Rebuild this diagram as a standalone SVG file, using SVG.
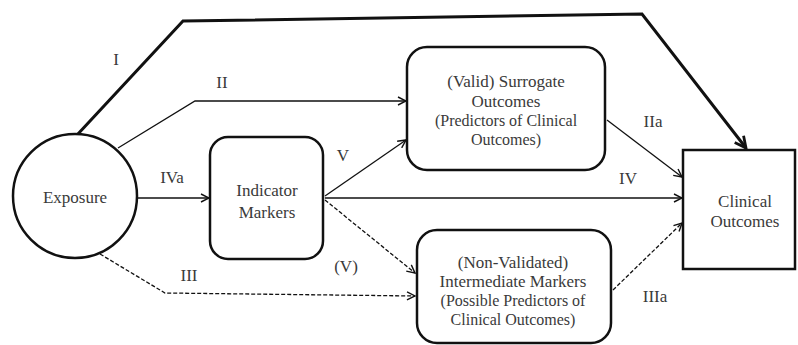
<svg xmlns="http://www.w3.org/2000/svg" width="798" height="345" viewBox="0 0 798 345">
<style>
.node{fill:#fff;stroke:#111;stroke-width:2.5}
text{font-family:'Liberation Serif','Times New Roman','DejaVu Serif',serif;font-size:17px;fill:#3a3a3a;text-anchor:middle}
text.s{font-size:16px}
.c{fill:none;stroke:#111;stroke-width:1.3}
.d{stroke-dasharray:4,2}
.thick{stroke-width:3}
</style>
<defs>
<marker id="a" viewBox="0 0 10 10" refX="9" refY="5" markerWidth="10" markerHeight="10" markerUnits="userSpaceOnUse" orient="auto"><path d="M1,1 L9,5 L1,9" fill="none" stroke="#111" stroke-width="1.4"/></marker>
<marker id="ab" viewBox="0 0 10 10" refX="9" refY="5" markerWidth="14" markerHeight="14" markerUnits="userSpaceOnUse" orient="auto"><path d="M1,1 L9,5 L1,9" fill="none" stroke="#111" stroke-width="2"/></marker>
</defs>
<g id="connectors">
<path class="c thick" d="M77,135 L183,21 L642,14 L746,148" marker-end="url(#ab)"/>
<path class="c" d="M118,148 L195,101 L406,101" marker-end="url(#a)"/>
<path class="c" d="M137,198 L209,198" marker-end="url(#a)"/>
<path class="c" d="M325,196 L406,140" marker-end="url(#a)"/>
<path class="c" d="M325,198 L682,198" marker-end="url(#a)"/>
<path class="c d" d="M325,200 L415,273" marker-end="url(#a)"/>
<path class="c d" d="M100,254 L165,293 L415,296" marker-end="url(#a)"/>
<path class="c" d="M607,120 L682,177" marker-end="url(#a)"/>
<path class="c d" d="M613,290 L682,223" marker-end="url(#a)"/>
<text x="116" y="65">I</text>
<text x="222" y="88">II</text>
<text x="172" y="183">IVa</text>
<text x="343" y="161">V</text>
<text x="628" y="184">IV</text>
<text x="346" y="272">(V)</text>
<text x="189" y="281">III</text>
<text x="653" y="127">IIa</text>
<text x="655" y="302">IIIa</text>
</g>
<g id="exposure">
<circle class="node" cx="75" cy="196" r="62"/>
<text x="75" y="203">Exposure</text>
</g>
<g id="indicator">
<rect class="node" x="210" y="137" width="113" height="122" rx="18"/>
<text x="267" y="196">Indicator</text>
<text x="267" y="218">Markers</text>
</g>
<g id="surrogate">
<rect class="node" x="407" y="47" width="198" height="123" rx="20"/>
<text x="506" y="87">(Valid) Surrogate</text>
<text x="506" y="107">Outcomes</text>
<text class="s" x="506" y="126">(Predictors of Clinical</text>
<text class="s" x="506" y="145">Outcomes)</text>
</g>
<g id="intermediate">
<rect class="node" x="417" y="230" width="194" height="113" rx="20"/>
<text x="513" y="268">(Non-Validated)</text>
<text x="513" y="287">Intermediate Markers</text>
<text class="s" x="513" y="306">(Possible Predictors of</text>
<text class="s" x="513" y="325">Clinical Outcomes)</text>
</g>
<g id="clinical">
<rect class="node" x="683" y="150" width="112" height="119"/>
<text x="745" y="207">Clinical</text>
<text x="745" y="227">Outcomes</text>
</g>
</svg>
